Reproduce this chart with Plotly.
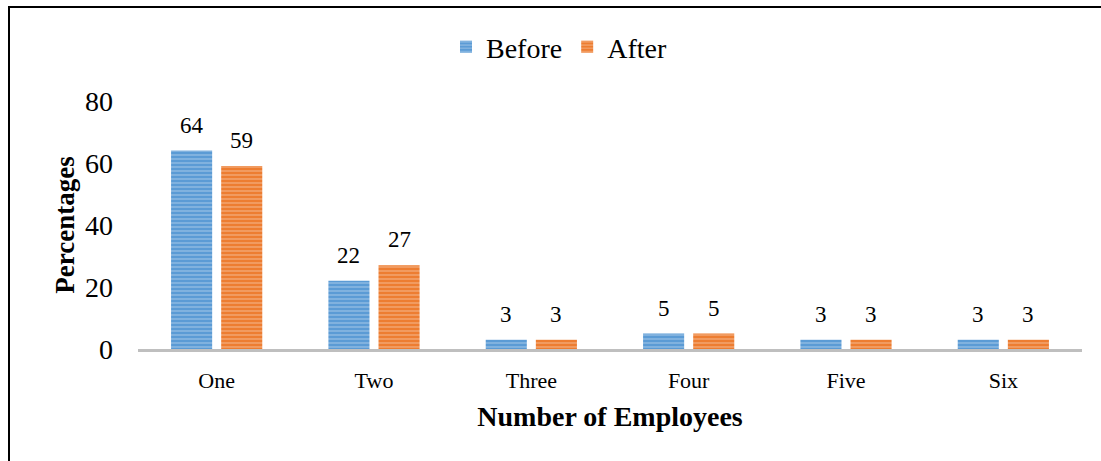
import plotly.graph_objects as go

categories = ["One", "Two", "Three", "Four", "Five", "Six"]
before = [64, 22, 3, 5, 3, 3]
after = [59, 27, 3, 5, 3, 3]
y_ticks = [0, 20, 40, 60, 80]

FONT = "Liberation Serif, Times New Roman, serif"
W, H = 1101, 461
L, R, T, B = 138, 19, 101, 112
pw, ph = W - L - R, H - T - B

def striped(color):
    return dict(color=color, line=dict(width=0),
                pattern=dict(shape="-", fgcolor="rgba(255,255,255,0.75)", bgcolor=color,
                             size=4, solidity=0.3, fillmode="overlay"))

fig = go.Figure()
fig.add_trace(go.Bar(name="Before", x=categories, y=before, marker=striped("#5B9BD5")))
fig.add_trace(go.Bar(name="After", x=categories, y=after, marker=striped("#ED7D31")))

bargap, groupgap = 0.363, 0.18
cat_w = pw / len(categories)
offset = cat_w * (1 - bargap) / 4

annotations = []
for series, sign in ((before, -1), (after, 1)):
    for c, v in zip(categories, series):
        annotations.append(dict(x=c, y=v, xref="x", yref="y", text=str(v), showarrow=False,
                                xshift=sign * offset, yshift=11, yanchor="bottom",
                                font=dict(family=FONT, size=23, color="black")))

fx = lambda px: (px - L) / pw
fy = lambda py: (H - B - py) / ph

fig.update_layout(
    width=W, height=H,
    margin=dict(l=L, r=R, t=T, b=B),
    paper_bgcolor="white", plot_bgcolor="white",
    barmode="group", bargap=bargap, bargroupgap=groupgap,
    font=dict(family=FONT, color="black"),
    legend=dict(orientation="h", x=fx(559), xanchor="center", y=fy(47), yanchor="middle",
                font=dict(family=FONT, size=28), itemwidth=30, traceorder="normal"),
    xaxis=dict(showline=True, linecolor="#BFBFBF", linewidth=3, ticks="",
               tickfont=dict(family=FONT, size=22), ticklabelstandoff=10,
               title=dict(text="<b>Number of Employees</b>", font=dict(family=FONT, size=28), standoff=14)),
    yaxis=dict(range=[0, 80], tickvals=y_ticks, showgrid=False, zeroline=False, showline=False,
               tickfont=dict(family=FONT, size=28), ticklabelstandoff=24,
               title=dict(text="<b>Percentages</b>", font=dict(family=FONT, size=27), standoff=2)),
    annotations=annotations,
    shapes=[dict(type="rect", xref="paper", yref="paper", x0=fx(9), x1=fx(1200), y0=fy(600), y1=fy(7),
                 line=dict(color="black", width=2), fillcolor="rgba(0,0,0,0)", layer="below")],
)

fig.write_html("out.html")
